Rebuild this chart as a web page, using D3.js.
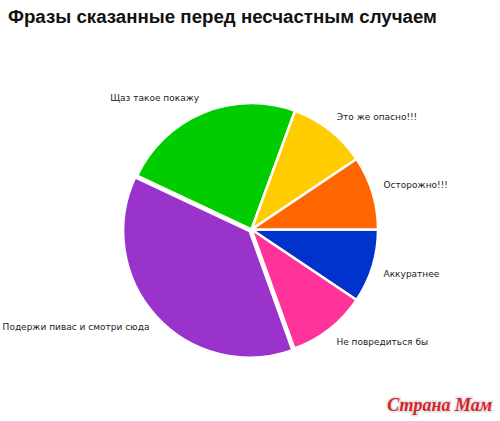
<!DOCTYPE html>
<html>
<head>
<meta charset="utf-8">
<script src="https://cdn.jsdelivr.net/npm/d3@7"></script>
<style>
  body { margin: 0; background: #fff; }
</style>
</head>
<body>
<div id="chart"></div>
<script>
// slices, clockwise from 3 o'clock
var phrases = ["Аккуратнее", "Не повредиться бы", "Подержи пивас и смотри сюда",
               "Щаз такое покажу", "Это же опасно!!!", "Осторожно!!!"];
var shares = [9.4, 10.1, 37.5, 23.6, 10.0, 9.4];
var slice_colours = ["#0033cc", "#ff3399", "#9933cc", "#00cc00", "#ffcc00", "#ff6600"];
var exploded = [false, false, true, false, false, false];

var width = 500, height = 421,
    cx = 251.5, cy = 229.5,
    radius = 126.5,
    label_radius = 138;

var svg = d3.select("#chart")
  .append("svg")
  .attr("width", width)
  .attr("height", height);

svg.append("text")
  .attr("x", 8)
  .attr("y", 23)
  .style("font-family", "'Liberation Sans', Arial, sans-serif")
  .style("font-weight", "bold")
  .style("font-size", "18.7px")
  .style("fill", "#111")
  .text("Фразы сказанные перед несчастным случаем");

var pie_data = phrases.map(function(d, i) {
  return { name: d, value: shares[i], colour: slice_colours[i], out: exploded[i] };
});

var pie = d3.pie()
  .sort(null)
  .value(function(d) { return d.value; })
  .startAngle(Math.PI / 2)
  .endAngle(Math.PI / 2 + 2 * Math.PI);

var arc = d3.arc().innerRadius(0).outerRadius(radius);
var label_arc = d3.arc().innerRadius(label_radius).outerRadius(label_radius);

var g = svg.append("g")
  .attr("transform", "translate(" + cx + "," + cy + ")");

var arcs = pie(pie_data);

function mid_angle(d) { return (d.startAngle + d.endAngle) / 2; }

g.selectAll("path.slice")
  .data(arcs)
  .enter()
  .append("path")
  .attr("class", "slice")
  .attr("d", arc)
  .attr("transform", function(d) {
    if (!d.data.out) return null;
    var mid = mid_angle(d);
    return "translate(" + (Math.sin(mid) * 2.5) + "," + (-Math.cos(mid) * 2.5) + ")";
  })
  .attr("fill", function(d) { return d.data.colour; })
  .attr("stroke", "#fff")
  .attr("stroke-width", 2.5)
  .attr("stroke-linejoin", "round");

// labels sit above the point on the top half, below it on the bottom half
g.selectAll("text.slice_label")
  .data(arcs)
  .enter()
  .append("text")
  .attr("class", "slice_label")
  .attr("transform", function(d) { return "translate(" + label_arc.centroid(d) + ")"; })
  .attr("dy", function(d) { return Math.cos(mid_angle(d)) > 0 ? "-0.1em" : "0.8em"; })
  .attr("text-anchor", function(d) { return Math.sin(mid_angle(d)) >= 0 ? "start" : "end"; })
  .style("font-family", "'DejaVu Sans', Verdana, sans-serif")
  .style("font-size", "9px")
  .style("fill", "#222")
  .text(function(d) { return d.data.name; });

// site watermark
svg.append("text")
  .attr("x", 492)
  .attr("y", 411)
  .attr("text-anchor", "end")
  .style("font-family", "'Liberation Serif', 'DejaVu Serif', serif")
  .style("font-style", "italic")
  .style("font-weight", "bold")
  .style("font-size", "18px")
  .style("fill", "#d8232a")
  .style("stroke", "#e4e4e4")
  .style("stroke-width", 3)
  .style("paint-order", "stroke")
  .text("Страна Мам");
</script>
</body>
</html>
